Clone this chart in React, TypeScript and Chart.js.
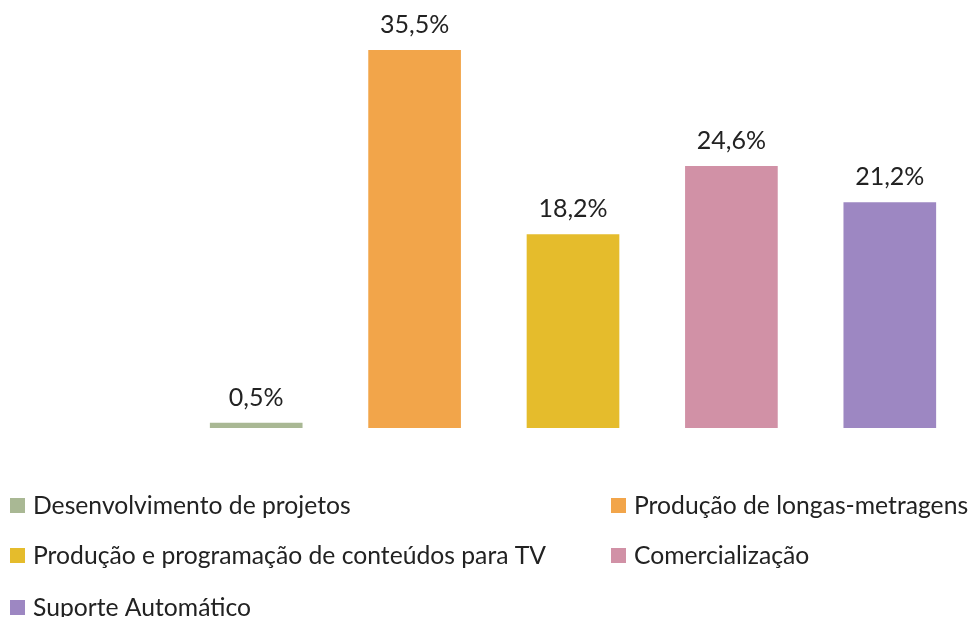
import React, { useEffect, useRef } from "react";
import { Chart, registerables } from "chart.js";

Chart.register(...registerables);

const categories = [
  "Desenvolvimento de projetos",
  "Produção de longas-metragens",
  "Produção e programação de conteúdos para TV",
  "Comercialização",
  "Suporte Automático",
];
const values = [0.5, 35.5, 18.2, 24.6, 21.2];
const valueLabels = ["0,5%", "35,5%", "18,2%", "24,6%", "21,2%"];
const colors = ["#A9B894", "#F2A54A", "#E5BC2C", "#D191A6", "#9D87C2"];

const FONT = "Lato, 'Open Sans', sans-serif";

const overlayPlugin = {
  id: "overlay",
  afterDatasetsDraw(chart: any) {
    const ctx = chart.ctx;
    const meta = chart.getDatasetMeta(0);
    ctx.save();
    ctx.fillStyle = "#222222";
    ctx.font = `25px ${FONT}`;
    ctx.textAlign = "center";
    ctx.textBaseline = "alphabetic";
    meta.data.forEach((bar: any, i: number) => {
      ctx.fillText(valueLabels[i], bar.x, bar.y - 17);
    });
    // legend in two columns
    const cols = [10, 611];
    const rows = [498, 548, 600];
    ctx.font = `24.7px ${FONT}`;
    ctx.textAlign = "left";
    ctx.textBaseline = "middle";
    categories.forEach((c, i) => {
      const col = i % 2;
      const row = Math.floor(i / 2);
      const x = cols[col];
      const y = rows[row];
      ctx.fillStyle = colors[i];
      ctx.fillRect(x, y, 15, 15);
      ctx.fillStyle = "#222222";
      ctx.fillText(c, x + 23, y + 8);
    });
    ctx.restore();
  },
};

export default function App() {
  const ref = useRef<HTMLCanvasElement>(null);
  useEffect(() => {
    if (!ref.current) return;
    const chart = new Chart(ref.current, {
      type: "bar",
      data: {
        labels: categories,
        datasets: [
          {
            data: values,
            backgroundColor: colors,
            borderWidth: 0,
            barPercentage: 0.585,
            categoryPercentage: 1,
          },
        ],
      },
      options: {
        animation: false,
        responsive: false,
        maintainAspectRatio: false,
        layout: { padding: { left: 177, right: 2, top: 2, bottom: 189 } },
        plugins: {
          legend: { display: false },
          tooltip: { enabled: false },
        },
        scales: {
          x: { display: false },
          y: { display: false, min: 0, max: 40 },
        },
      },
      plugins: [overlayPlugin],
    });
    return () => chart.destroy();
  }, []);
  return (
    <div style={{ position: "absolute", left: 0, top: 0, width: 971, height: 617, background: "#fff" }}>
      <canvas ref={ref} width={971} height={617} style={{ width: 971, height: 617 }} />
    </div>
  );
}
